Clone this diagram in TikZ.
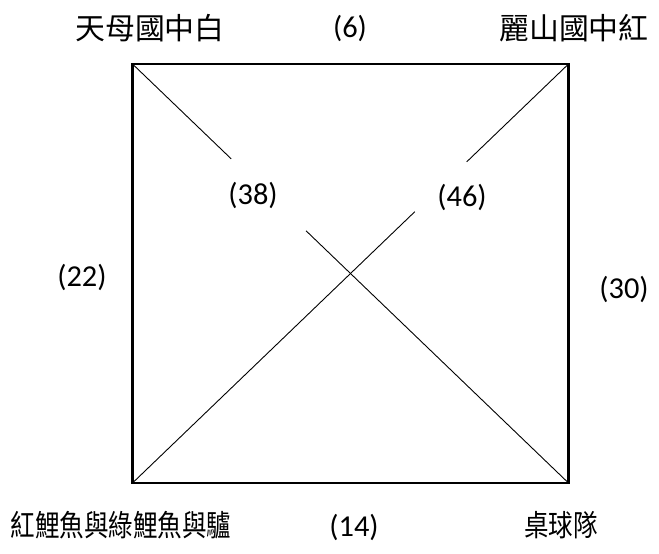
\documentclass[tikz,border=0pt]{standalone}
\usepackage{fontspec}
\setmainfont{Carlito}
\newfontfamily\cjk{Noto Sans CJK TC}
\usetikzlibrary{calc}
\begin{document}
\begin{tikzpicture}[x=1bp,y=-1bp,
  num/.style={font=\fontsize{30.5}{36}\selectfont, inner sep=0pt},
  cjklabel/.style={font=\cjk\fontsize{30}{36}\selectfont, inner sep=0pt},
  cjknarrow/.style={cjklabel, xscale=0.82},
  frame/.style={line width=2.7bp, line join=miter},
  diag/.style={line width=0.9bp}]
\useasboundingbox (0,0) rectangle (659,554);
\coordinate (tl) at (132.5,64);
\coordinate (tr) at (568.5,64);
\coordinate (br) at (568.5,483);
\coordinate (bl) at (132.5,483);
\draw[frame] (tl) -- (tr) -- (br) -- (bl) -- cycle;
\coordinate (a1) at ($(tl)!0.2265!(br)$);
\coordinate (a2) at ($(tl)!0.398!(br)$);
\coordinate (b1) at ($(bl)!0.6476!(tr)$);
\coordinate (b2) at ($(bl)!0.7666!(tr)$);
\draw[diag] (tl) -- (a1);
\draw[diag] (a2) -- (br);
\draw[diag] (bl) -- (b1);
\draw[diag] (b2) -- (tr);
\node[cjklabel] (n1) at (150,28) {天母國中白};
\node[num] (w1) at (350,28) {(6)};
\node[cjklabel] (n2) at (574,28) {麗山國中紅};
\node[num] (w2) at (253,195) {(38)};
\node[num] (w3) at (462,197) {(46)};
\node[num] (w4) at (82,277) {(22)};
\node[num] (w5) at (624,289) {(30)};
\node[cjknarrow] (n3) at (121,525) {紅鯉魚與綠鯉魚與驢};
\node[num] (w6) at (354,527) {(14)};
\node[cjknarrow] (n4) at (561,525) {桌球隊};
\end{tikzpicture}
\end{document}
